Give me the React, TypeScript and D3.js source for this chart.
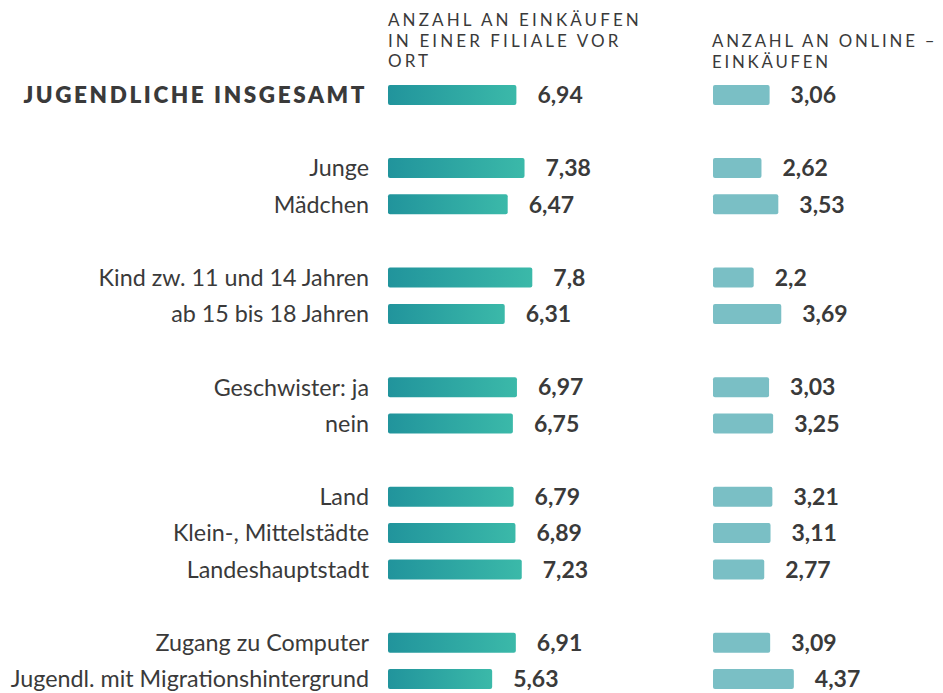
import React from "react";
import * as d3 from "d3";

const categories = [
  "JUGENDLICHE INSGESAMT",
  "Junge",
  "Mädchen",
  "Kind zw. 11 und 14 Jahren",
  "ab 15 bis 18 Jahren",
  "Geschwister: ja",
  "nein",
  "Land",
  "Klein-, Mittelstädte",
  "Landeshauptstadt",
  "Zugang zu Computer",
  "Jugendl. mit Migrationshintergrund",
];
const groupIndex = [0, 1, 1, 2, 2, 3, 3, 4, 4, 4, 5, 5];
const storeValues = [6.94, 7.38, 6.47, 7.8, 6.31, 6.97, 6.75, 6.79, 6.89, 7.23, 6.91, 5.63];
const onlineValues = [3.06, 2.62, 3.53, 2.2, 3.69, 3.03, 3.25, 3.21, 3.11, 2.77, 3.09, 4.37];
const header1 = ["ANZAHL AN EINKÄUFEN", "IN EINER FILIALE VOR", "ORT"];
const header2 = ["ANZAHL AN ONLINE –", "EINKÄUFEN"];

const fmt = (v: number) => String(v).replace(".", ",");

export default function App() {
  const W = 943, H = 693;
  const rowStep = 36.3;
  const groupGap = 37;
  const yPos = categories.map((_, i) => 95 + i * rowStep + (groupIndex[i] - (i > 0 ? 1 : 0)) * groupGap + (i > 0 ? 73 - rowStep : 0));
  const x1 = d3.scaleLinear().domain([0, 10]).range([388, 388 + 185]);
  const x2 = d3.scaleLinear().domain([0, 10]).range([713, 713 + 185]);
  const barH = 20;
  const font = "Lato, 'Noto Sans', sans-serif";
  const col = "#3a3a3a";
  return (
    <svg width={W} height={H} style={{ position: "absolute", left: 0, top: 0 }}>
      <defs>
        <linearGradient id="g1" x1="0" x2="1" y1="0" y2="0">
          <stop offset="0%" stopColor="#21949c" />
          <stop offset="100%" stopColor="#3bb9a9" />
        </linearGradient>
      </defs>
      <g fontFamily={font} fill={col}>
        {header1.map((t, i) => (
          <text key={"h1" + i} x={388} y={26 + i * 20.7} fontSize={17} letterSpacing={3.1}>{t}</text>
        ))}
        {header2.map((t, i) => (
          <text key={"h2" + i} x={712} y={47 + i * 20.7} fontSize={16.8} letterSpacing={2.8}>{t}</text>
        ))}
        {categories.map((c, i) => {
          const y = yPos[i];
          return (
            <g key={c}>
              <text x={i === 0 ? 367 : 369} y={y} dy="0.36em" textAnchor="end" fontSize={i === 0 ? 22.5 : 23.3}
                fontWeight={i === 0 ? 800 : 400} letterSpacing={i === 0 ? 2.6 : 0}>{c}</text>
              <rect x={x1(0)} y={y - barH / 2} width={x1(storeValues[i]) - x1(0)} height={barH} rx={2} fill="url(#g1)" />
              <text x={x1(storeValues[i]) + 21} y={y} dy="0.36em" fontSize={23} fontWeight={700}>{fmt(storeValues[i])}</text>
              <rect x={x2(0)} y={y - barH / 2} width={x2(onlineValues[i]) - x2(0)} height={barH} rx={2} fill="#7abfc5" />
              <text x={x2(onlineValues[i]) + 21} y={y} dy="0.36em" fontSize={23} fontWeight={700}>{fmt(onlineValues[i])}</text>
            </g>
          );
        })}
      </g>
    </svg>
  );
}
